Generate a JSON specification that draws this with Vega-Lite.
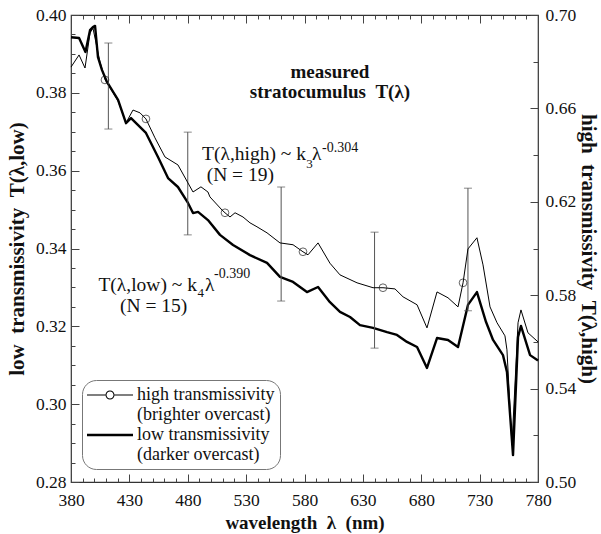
{
  "$schema": "https://vega.github.io/schema/vega-lite/v6.json",
  "width": 467,
  "height": 467,
  "autosize": "none",
  "padding": {"left": 71, "top": 15, "right": 63, "bottom": 52},
  "background": "white",
  "config": {
    "font": "Liberation Serif",
    "view": {"stroke": "#333", "strokeWidth": 1.2},
    "axis": {"domain": false, "grid": false, "labelFont": "Liberation Serif", "labelFontSize": 17.5, "labelColor": "#111", "titleFont": "Liberation Serif", "titleFontWeight": "bold", "titleColor": "#111", "tickColor": "#444", "tickWidth": 1, "labelOverlap": false, "labelFlush": false, "labelBound": false},
    "text": {"font": "Liberation Serif", "color": "#111"}
  },
  "datasets": {
    "low": [
      {"wl": 380, "t": 0.3943}, {"wl": 386.9, "t": 0.3941}, {"wl": 392.4, "t": 0.3905}, {"wl": 396.3, "t": 0.3961},
      {"wl": 398.8, "t": 0.3969}, {"wl": 400.6, "t": 0.3972}, {"wl": 403.1, "t": 0.3892}, {"wl": 406.5, "t": 0.3859},
      {"wl": 410.8, "t": 0.3828}, {"wl": 420.3, "t": 0.3782}, {"wl": 427.1, "t": 0.3722}, {"wl": 431.4, "t": 0.3735},
      {"wl": 444.2, "t": 0.3697}, {"wl": 454.5, "t": 0.3635}, {"wl": 463.1, "t": 0.3581}, {"wl": 471.6, "t": 0.3558},
      {"wl": 480.2, "t": 0.3517}, {"wl": 484.5, "t": 0.3491}, {"wl": 488.8, "t": 0.3494}, {"wl": 497.3, "t": 0.3473},
      {"wl": 507.6, "t": 0.3435}, {"wl": 518.8, "t": 0.3409}, {"wl": 533.3, "t": 0.3383}, {"wl": 547.9, "t": 0.3363},
      {"wl": 559, "t": 0.3327}, {"wl": 570.2, "t": 0.3314}, {"wl": 582.1, "t": 0.3288}, {"wl": 591.6, "t": 0.3301},
      {"wl": 601.8, "t": 0.3262}, {"wl": 610.4, "t": 0.3237}, {"wl": 619, "t": 0.3224}, {"wl": 627.5, "t": 0.3203},
      {"wl": 638.7, "t": 0.3196}, {"wl": 650.7, "t": 0.3185}, {"wl": 659.2, "t": 0.3178}, {"wl": 667.8, "t": 0.316},
      {"wl": 676.4, "t": 0.3147}, {"wl": 684.9, "t": 0.3093}, {"wl": 693.5, "t": 0.317}, {"wl": 702.9, "t": 0.3165},
      {"wl": 711.5, "t": 0.3147}, {"wl": 720, "t": 0.3255}, {"wl": 727.7, "t": 0.3288}, {"wl": 735.5, "t": 0.3211},
      {"wl": 741.5, "t": 0.3165}, {"wl": 750, "t": 0.3126}, {"wl": 753.4, "t": 0.3083}, {"wl": 758.6, "t": 0.2869},
      {"wl": 762.9, "t": 0.3173}, {"wl": 765.4, "t": 0.3201}, {"wl": 773.2, "t": 0.3126}, {"wl": 780, "t": 0.3112}
    ],
    "high": [
      {"wl": 380, "t": 0.6777}, {"wl": 386.9, "t": 0.6829}, {"wl": 392, "t": 0.6773}, {"wl": 396.3, "t": 0.6923},
      {"wl": 398.8, "t": 0.6944}, {"wl": 404.8, "t": 0.6799}, {"wl": 409.1, "t": 0.6725}, {"wl": 420.3, "t": 0.6632},
      {"wl": 427.1, "t": 0.6538}, {"wl": 433.1, "t": 0.6593}, {"wl": 439.1, "t": 0.6581}, {"wl": 444.2, "t": 0.6555},
      {"wl": 451.9, "t": 0.6474}, {"wl": 460.5, "t": 0.6392}, {"wl": 471.6, "t": 0.6358}, {"wl": 484.5, "t": 0.6242},
      {"wl": 491.3, "t": 0.6264}, {"wl": 497.3, "t": 0.6242}, {"wl": 499, "t": 0.6221}, {"wl": 509.3, "t": 0.6165},
      {"wl": 511.9, "t": 0.6153}, {"wl": 516.2, "t": 0.6135}, {"wl": 520.5, "t": 0.6153}, {"wl": 527.3, "t": 0.6135},
      {"wl": 533.3, "t": 0.611}, {"wl": 539.3, "t": 0.6093}, {"wl": 547.9, "t": 0.6067}, {"wl": 559, "t": 0.6024},
      {"wl": 570.2, "t": 0.6016}, {"wl": 578.7, "t": 0.5986}, {"wl": 583, "t": 0.5973}, {"wl": 591.6, "t": 0.6024},
      {"wl": 601.8, "t": 0.5937}, {"wl": 610.4, "t": 0.5887}, {"wl": 625, "t": 0.5853}, {"wl": 638.7, "t": 0.5832},
      {"wl": 647.2, "t": 0.5832}, {"wl": 657.5, "t": 0.5827}, {"wl": 664.4, "t": 0.5793}, {"wl": 676.4, "t": 0.5759},
      {"wl": 684.9, "t": 0.566}, {"wl": 693.5, "t": 0.5814}, {"wl": 702.9, "t": 0.5789}, {"wl": 711.5, "t": 0.575},
      {"wl": 715.8, "t": 0.5853}, {"wl": 720, "t": 0.5998}, {"wl": 727.7, "t": 0.6046}, {"wl": 732.9, "t": 0.593},
      {"wl": 738.9, "t": 0.575}, {"wl": 744.9, "t": 0.5682}, {"wl": 751.7, "t": 0.5626}, {"wl": 753.4, "t": 0.5566},
      {"wl": 757.7, "t": 0.5158}, {"wl": 762.9, "t": 0.5682}, {"wl": 765.4, "t": 0.5737}, {"wl": 771.4, "t": 0.5639},
      {"wl": 780, "t": 0.56}
    ],
    "markers": [
      {"wl": 409.1, "t": 0.6722, "series": "high"}, {"wl": 444.2, "t": 0.6555, "series": "high"},
      {"wl": 511.9, "t": 0.6153, "series": "high"}, {"wl": 578.7, "t": 0.5986, "series": "high"},
      {"wl": 647.2, "t": 0.5832, "series": "high"}, {"wl": 715.8, "t": 0.5853, "series": "high"}
    ],
    "bars": [
      {"wl": 412, "lo": 0.3707, "hi": 0.3928}, {"wl": 480, "lo": 0.3435, "hi": 0.3699},
      {"wl": 560, "lo": 0.3265, "hi": 0.3558}, {"wl": 640, "lo": 0.3144, "hi": 0.3442},
      {"wl": 720, "lo": 0.324, "hi": 0.3555}
    ],
    "heading": [
      {"wl": 601.8, "t": 0.3838, "text": "measured"},
      {"wl": 601.8, "t": 0.3787, "text": "stratocumulus\u00a0\u00a0T(λ)"}
    ],
    "notesRight": [
      {"wl": 581.3, "t": 0.3627, "text": "T(λ,high) ~ k"},
      {"wl": 487.9, "t": 0.3291, "text": "T(λ,low) ~ k"}
    ],
    "notes": [
      {"wl": 586.4, "t": 0.3627, "text": "λ"},
      {"wl": 496.2, "t": 0.3573, "text": "(N = 19)"},
      {"wl": 494.8, "t": 0.3291, "text": "λ"},
      {"wl": 422.0, "t": 0.3238, "text": "(N = 15)"}
    ],
    "subs": [
      {"wl": 581.6, "t": 0.3607, "text": "3"},
      {"wl": 488.3, "t": 0.3275, "text": "4"}
    ],
    "sups": [
      {"wl": 595.0, "t": 0.3648, "text": "-0.304"},
      {"wl": 502.5, "t": 0.3325, "text": "-0.390"}
    ]
  },
  "layer": [
    {
      "layer": [
        {
          "data": {"name": "low"},
          "mark": {"type": "line", "color": "black", "strokeWidth": 2.4, "strokeJoin": "round"},
          "encoding": {
            "x": {"field": "wl", "type": "quantitative", "scale": {"domain": [380, 780], "nice": false, "zero": false},
                  "axis": {"orient": "bottom", "values": [380, 430, 480, 530, 580, 630, 680, 730, 780], "tickSize": -8, "labelPadding": 17, "title": "wavelength\u00a0\u00a0λ\u00a0\u00a0(nm)", "titleFontSize": 19, "titlePadding": 5}},
            "y": {"field": "t", "type": "quantitative", "scale": {"domain": [0.28, 0.40], "nice": false, "zero": false},
                  "axis": {"orient": "left", "values": [0.28, 0.30, 0.32, 0.34, 0.36, 0.38, 0.40], "format": ".2f", "tickSize": -8, "labelPadding": 13, "title": "low\u00a0\u00a0transmissivity\u00a0\u00a0T(λ,low)", "titleFontSize": 21, "titlePadding": 8}}
          }
        },
        {
          "data": {"name": "bars"},
          "mark": {"type": "rule", "color": "#555", "strokeWidth": 1},
          "encoding": {
            "x": {"field": "wl", "type": "quantitative", "scale": {"domain": [380, 780], "nice": false, "zero": false},
                  "axis": {"orient": "bottom", "values": [390, 400, 410, 420, 440, 450, 460, 470, 490, 500, 510, 520, 540, 550, 560, 570, 590, 600, 610, 620, 640, 650, 660, 670, 690, 700, 710, 720, 740, 750, 760, 770], "tickSize": -4, "labels": false, "title": null}},
            "y": {"field": "lo", "type": "quantitative", "scale": {"domain": [0.28, 0.40], "nice": false, "zero": false},
                  "axis": {"orient": "left", "values": [0.285, 0.29, 0.295, 0.305, 0.31, 0.315, 0.325, 0.33, 0.335, 0.345, 0.35, 0.355, 0.365, 0.37, 0.375, 0.385, 0.39, 0.395], "tickSize": -4, "labels": false, "title": null}},
            "y2": {"field": "hi"}
          }
        },
        {
          "data": {"name": "bars"},
          "mark": {"type": "tick", "orient": "horizontal", "color": "#555", "size": 8, "thickness": 1},
          "encoding": {
            "x": {"field": "wl", "type": "quantitative", "scale": {"domain": [380, 780], "nice": false, "zero": false},
                  "axis": {"orient": "top", "values": [380, 430, 480, 530, 580, 630, 680, 730, 780], "tickSize": -8, "labels": false, "title": null}},
            "y": {"field": "lo", "type": "quantitative", "scale": {"domain": [0.28, 0.40], "nice": false, "zero": false}, "axis": null}
          }
        },
        {
          "data": {"name": "bars"},
          "mark": {"type": "tick", "orient": "horizontal", "color": "#555", "size": 8, "thickness": 1},
          "encoding": {
            "x": {"field": "wl", "type": "quantitative", "scale": {"domain": [380, 780], "nice": false, "zero": false},
                  "axis": {"orient": "top", "values": [390, 400, 410, 420, 440, 450, 460, 470, 490, 500, 510, 520, 540, 550, 560, 570, 590, 600, 610, 620, 640, 650, 660, 670, 690, 700, 710, 720, 740, 750, 760, 770], "tickSize": -4, "labels": false, "title": null}},
            "y": {"field": "hi", "type": "quantitative", "scale": {"domain": [0.28, 0.40], "nice": false, "zero": false}, "axis": null}
          }
        },
        {
          "data": {"name": "heading"},
          "mark": {"type": "text", "fontSize": 19, "fontWeight": "bold", "align": "center", "baseline": "alphabetic"},
          "encoding": {
            "x": {"field": "wl", "type": "quantitative", "axis": null},
            "y": {"field": "t", "type": "quantitative", "axis": null},
            "text": {"field": "text"}
          }
        },
        {
          "data": {"name": "notesRight"},
          "mark": {"type": "text", "fontSize": 19.5, "align": "right", "baseline": "alphabetic"},
          "encoding": {
            "x": {"field": "wl", "type": "quantitative", "axis": null},
            "y": {"field": "t", "type": "quantitative", "axis": null},
            "text": {"field": "text"}
          }
        },
        {
          "data": {"name": "notes"},
          "mark": {"type": "text", "fontSize": 19.5, "align": "left", "baseline": "alphabetic"},
          "encoding": {
            "x": {"field": "wl", "type": "quantitative", "axis": null},
            "y": {"field": "t", "type": "quantitative", "axis": null},
            "text": {"field": "text"}
          }
        },
        {
          "data": {"name": "subs"},
          "mark": {"type": "text", "fontSize": 13, "align": "left", "baseline": "alphabetic"},
          "encoding": {
            "x": {"field": "wl", "type": "quantitative", "axis": null},
            "y": {"field": "t", "type": "quantitative", "axis": null},
            "text": {"field": "text"}
          }
        },
        {
          "data": {"name": "sups"},
          "mark": {"type": "text", "fontSize": 14, "align": "left", "baseline": "alphabetic"},
          "encoding": {
            "x": {"field": "wl", "type": "quantitative", "axis": null},
            "y": {"field": "t", "type": "quantitative", "axis": null},
            "text": {"field": "text"}
          }
        }
      ],
      "resolve": {"axis": {"x": "independent", "y": "independent"}}
    },
    {
      "layer": [
        {
          "data": {"name": "high"},
          "mark": {"type": "line", "color": "black", "strokeWidth": 1, "strokeJoin": "round"},
          "encoding": {
            "x": {"field": "wl", "type": "quantitative", "scale": {"domain": [380, 780], "nice": false, "zero": false}, "axis": null},
            "y": {"field": "t", "type": "quantitative", "scale": {"domain": [0.5, 0.7], "nice": false, "zero": false},
                  "axis": {"orient": "right", "values": [0.5, 0.54, 0.58, 0.62, 0.66, 0.7], "format": ".2f", "tickSize": -8, "labelPadding": 15, "title": "high\u00a0\u00a0transmissivity\u00a0\u00a0T(λ,high)", "titleFontSize": 21, "titlePadding": 2}}
          }
        },
        {
          "data": {"name": "markers"},
          "mark": {"type": "point", "shape": "circle", "size": 60, "filled": false, "stroke": "#222", "strokeWidth": 1},
          "encoding": {
            "x": {"field": "wl", "type": "quantitative", "scale": {"domain": [380, 780], "nice": false, "zero": false}, "axis": null},
            "y": {"field": "t", "type": "quantitative", "scale": {"domain": [0.5, 0.7], "nice": false, "zero": false},
                  "axis": {"orient": "right", "values": [0.52, 0.56, 0.6, 0.64, 0.68], "tickSize": -5, "labels": false, "title": null}}
          }
        },
        {
          "data": {"name": "markers"},
          "mark": {"type": "point", "filled": true, "color": "black", "opacity": 0},
          "encoding": {
            "x": {"field": "wl", "type": "quantitative", "scale": {"domain": [380, 780], "nice": false, "zero": false}, "axis": null},
            "y": {"field": "t", "type": "quantitative", "scale": {"domain": [0.5, 0.7], "nice": false, "zero": false}, "axis": null},
            "shape": {
              "field": "series", "type": "nominal",
              "scale": {"domain": ["high", "low"], "range": [
                "M-2.3,-0.05H-0.45V0.05H-2.3Z M0.45,-0.05H2.3V0.05H0.45Z M0.45,0A0.45,0.45,0,1,0,-0.45,0A0.45,0.45,0,1,0,0.45,0Z M0.35,0A0.35,0.35,0,1,1,-0.35,0A0.35,0.35,0,1,1,0.35,0Z",
                "M-2.3,-0.125H2.3V0.125H-2.3Z"
              ]},
              "legend": {
                "orient": "none", "legendX": 11, "legendY": 365, "title": null,
                "labelExpr": "datum.label == 'high' ? ['high transmissivity\u00a0\u00a0\u00a0\u00a0\u00a0\u00a0\u00a0\u00a0\u00a0\u00a0', '\u00a0(brighter overcast)'] : ['low transmissivity', '\u00a0(darker overcast)']",
                "symbolSize": 400, "symbolOffset": 13, "symbolFillColor": "black", "symbolStrokeWidth": 0, "symbolOpacity": 1,
                "strokeColor": "#777", "cornerRadius": 14, "padding": 5, "fillColor": "white",
                "labelFont": "Liberation Serif", "labelFontSize": 18, "labelColor": "#111", "labelOffset": 17, "labelLimit": 400,
                "labelBaseline": "middle", "rowPadding": 1
              }
            }
          }
        }
      ],
      "resolve": {"axis": {"x": "independent", "y": "independent"}}
    }
  ],
  "resolve": {"scale": {"y": "independent"}, "axis": {"x": "independent", "y": "independent"}}
}
